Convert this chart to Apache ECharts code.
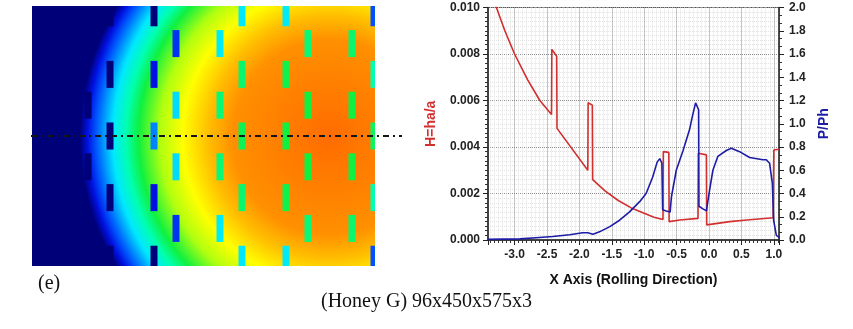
<!DOCTYPE html>
<html><head><meta charset="utf-8">
<script src="https://cdn.jsdelivr.net/npm/echarts@6/dist/echarts.min.js"></script>
<style>html,body{margin:0;padding:0;background:#fff}#chart{width:853px;height:329px}</style>
</head><body><div id="chart"></div>
<script>
// ===== DATA =====
// Left panel: pressure field colour map (value 0..1 -> colour) and radial profile
const palette = ['#000078','#0010e0','#0058ff','#00e8ff','#00ffb0','#10f040','#b0ff10','#ffff00','#ffc000','#ff9000','#ff6c00'];
// radius fraction (of the contact radius) at which each palette level (1.0 down to 0.0) occurs
const fieldRadius = [0, 0.39, 0.49, 0.59, 0.68, 0.765, 0.815, 0.868, 0.935, 0.97, 1.0];
// Honeycomb cell rectangles: column index, row index, colour value
const rectCol = [5,7,11,13,17, 4,8,10,14,16, 5,7,11,13,17, 4,8,10,14,16, 5,7,11,13,17, 4,8,10,14,16, 5,7,11,13,17, 4,8,10,14,16, 5,7,11,13,17];
const rectRow = [-4,-4,-4,-4,-4, -3,-3,-3,-3,-3, -2,-2,-2,-2,-2, -1,-1,-1,-1,-1, 0,0,0,0,0, 1,1,1,1,1, 2,2,2,2,2, 3,3,3,3,3, 4,4,4,4,4];
const rectVal = [0,0,0.30,0.31,0.19, 0,0.15,0.31,0.45,0.46, 0,0.10,0.46,0.49,0.40, 0,0.29,0.45,0.50,0.50, 0,0.23,0.48,0.50,0.47, 0,0.29,0.45,0.50,0.50, 0,0.10,0.46,0.49,0.40, 0,0.15,0.31,0.45,0.46, 0,0,0.30,0.31,0.19];
// Section line through the centre row
const sectionX = [31/22, 402/22];
const sectionRow = [0, 0];

// Right panel: H = ha/a (left axis) and P/Ph (right axis) along X
const hX = [-3.30,-3.28,-3.15,-3.00,-2.80,-2.61,-2.43,-2.425,-2.35,-2.345,-1.87,-1.865,-1.80,-1.795,-1.60,-1.40,-1.20,-1.00,-0.85,-0.71,-0.705,-0.62,-0.615,-0.45,-0.17,-0.165,-0.04,-0.035,0.32,0.58,0.99,1.00,1.08];
const hVal = [0.0102,0.0100,0.0090,0.0080,0.0069,0.0060,0.0054,0.0082,0.0079,0.0048,0.0030,0.0059,0.0058,0.0026,0.0021,0.0017,0.00138,0.00115,0.00098,0.00088,0.0038,0.00377,0.00079,0.00086,0.00093,0.00373,0.00366,0.00065,0.00079,0.00086,0.00096,0.00387,0.0039];
const pX = [-3.41,-2.92,-2.67,-2.41,-2.15,-1.95,-1.87,-1.79,-1.69,-1.53,-1.38,-1.23,-1.07,-0.97,-0.87,-0.80,-0.76,-0.727,-0.715,-0.66,-0.60,-0.58,-0.505,-0.40,-0.30,-0.25,-0.207,-0.16,-0.155,-0.10,-0.04,-0.017,0.009,0.06,0.137,0.267,0.344,0.472,0.627,0.832,0.884,0.935,0.977,0.997,1.039,1.09];
const pVal = [0.005,0.01,0.02,0.03,0.045,0.063,0.063,0.05,0.07,0.115,0.17,0.24,0.33,0.40,0.54,0.67,0.70,0.66,0.26,0.25,0.24,0.37,0.60,0.77,0.95,1.08,1.18,1.12,0.29,0.27,0.25,0.26,0.43,0.60,0.72,0.77,0.79,0.76,0.71,0.69,0.69,0.66,0.49,0.17,0.04,0.02];

const xRange = [-3.41, 1.08];
const hRange = [0, 0.010, 0.002];
const pRange = [0, 2.0, 0.2];

// ===== STYLE =====
const RECT_W = 7, RECT_H = 27;
const RED = '#d22f2f', BLUE = '#1c1ca6';
const labelFont = {fontFamily:'Liberation Sans', fontWeight:'bold', fontSize:12, color:'#222'};

const stops = fieldRadius.map((r, i) => ({offset: r, color: palette[palette.length - 1 - i]}));

const chart = echarts.init(document.getElementById('chart'), null, {renderer:'canvas'});
const rectData = rectCol.map((c, i) => [c, rectRow[i], rectVal[i]]);

const option = {
  animation: false,
  grid: [
    {left: 32, top: 6, width: 343, height: 260, show: true, borderWidth: 0,
     backgroundColor: {type:'radial', x: 0.869, y: 0.504, r: 0.962, colorStops: stops, global: false}},
    {left: 488, top: 7.5, width: 291, height: 232.5, show: true, borderColor: '#555', borderWidth: 1, backgroundColor: 'transparent'},
    {left: 31, top: 6, width: 371, height: 260, show: false}
  ],
  visualMap: [{type:'continuous', show:false, seriesIndex:0, dimension:2, min:0, max:1, inRange:{color: palette}}],
  xAxis: [
    {gridIndex:0, type:'value', min: 32/22, max: 375/22, show:false},
    {gridIndex:1, type:'value', min: xRange[0], max: xRange[1], splitNumber: 9,
     axisLine:{onZero:false, lineStyle:{color:'#222', width:1.5}},
     axisTick:{length:5, lineStyle:{color:'#222'}},
     minorTick:{show:true, splitNumber:8, length:3, lineStyle:{color:'#333'}},
     axisLabel:Object.assign({margin:9, showMinLabel:false, showMaxLabel:false, formatter: v => v.toFixed(1)}, labelFont),
     splitLine:{show:true, lineStyle:{color:'#8c8c8c', type:'dotted', width:1}},
     minorSplitLine:{show:true, lineStyle:{color:'#e2e2e2', type:'dotted', width:1}},
     name:'X Axis (Rolling Direction)', nameLocation:'middle', nameGap:33,
     nameTextStyle:{fontFamily:'Liberation Sans', fontWeight:'bold', fontSize:14, color:'#111'}},
    {gridIndex:2, type:'value', min: 31/22, max: 402/22, show:false}
  ],
  yAxis: [
    {gridIndex:0, type:'value', min:-4.22, max:4.22, inverse:true, show:false},
    {gridIndex:1, type:'value', position:'left', min:hRange[0], max:hRange[1], interval:hRange[2],
     axisLine:{show:true, onZero:false, lineStyle:{color:'#222', width:1.5}},
     axisTick:{show:true, length:5, lineStyle:{color:'#222'}},
     minorTick:{show:true, splitNumber:10, length:3, lineStyle:{color:'#333'}},
     axisLabel:Object.assign({margin:8, formatter: v => v.toFixed(3)}, labelFont),
     splitLine:{show:true, lineStyle:{color:'#8c8c8c', type:'dotted', width:1}},
     minorSplitLine:{show:true, lineStyle:{color:'#e2e2e2', type:'dotted', width:1}},
     name:'H=ha/a', nameLocation:'middle', nameGap:50,
     nameTextStyle:{fontFamily:'Liberation Sans', fontWeight:'bold', fontSize:14, color:RED}},
    {gridIndex:1, type:'value', position:'right', min:pRange[0], max:pRange[1], interval:pRange[2],
     axisLine:{show:true, onZero:false, lineStyle:{color:'#222', width:1.5}},
     axisTick:{show:true, length:5, lineStyle:{color:'#222'}},
     minorTick:{show:true, splitNumber:3, length:3, lineStyle:{color:'#333'}},
     axisLabel:Object.assign({margin:10, formatter: v => v.toFixed(1)}, labelFont),
     splitLine:{show:false},
     name:'P/Ph', nameLocation:'middle', nameGap:38,
     nameTextStyle:{fontFamily:'Liberation Sans', fontWeight:'bold', fontSize:14, color:BLUE}},
    {gridIndex:2, type:'value', min:-4.22, max:4.22, inverse:true, show:false}
  ],
  series: [
    {type:'custom', xAxisIndex:0, yAxisIndex:0, clip:true, data: rectData,
     encode:{x:0, y:1},
     renderItem: function(params, api){
       const c = api.coord([api.value(0), api.value(1)]);
       return {type:'rect', shape:{x:c[0]-RECT_W/2, y:c[1]-RECT_H/2, width:RECT_W, height:RECT_H},
               style:{fill: api.visual('color')}};
     }},
    {type:'line', xAxisIndex:2, yAxisIndex:3, clip:false, showSymbol:false, symbol:'none', silent:true,
     data: sectionX.map((x, i) => [x, sectionRow[i]]),
     lineStyle:{color:'#151515', width:2, type:[6,4,2,4]}, z:5},
    {type:'line', xAxisIndex:1, yAxisIndex:1, showSymbol:false, symbol:'none',
     data: hX.map((x, i) => [x, hVal[i]]), lineStyle:{color:RED, width:1.6}, itemStyle:{color:RED}},
    {type:'line', xAxisIndex:1, yAxisIndex:2, showSymbol:false, symbol:'none',
     data: pX.map((x, i) => [x, pVal[i]]), lineStyle:{color:BLUE, width:1.6}, itemStyle:{color:BLUE}}
  ],
  graphic: [
    {type:'text', left: 38, top: 274, style:{text:'(e)', font:'20px "Liberation Serif"', fill:'#111'}},
    {type:'text', left: 321, top: 292, style:{text:'(Honey G) 96x450x575x3', font:'20px "Liberation Serif"', fill:'#111'}}
  ]
};
chart.setOption(option);
</script>
</body></html>
